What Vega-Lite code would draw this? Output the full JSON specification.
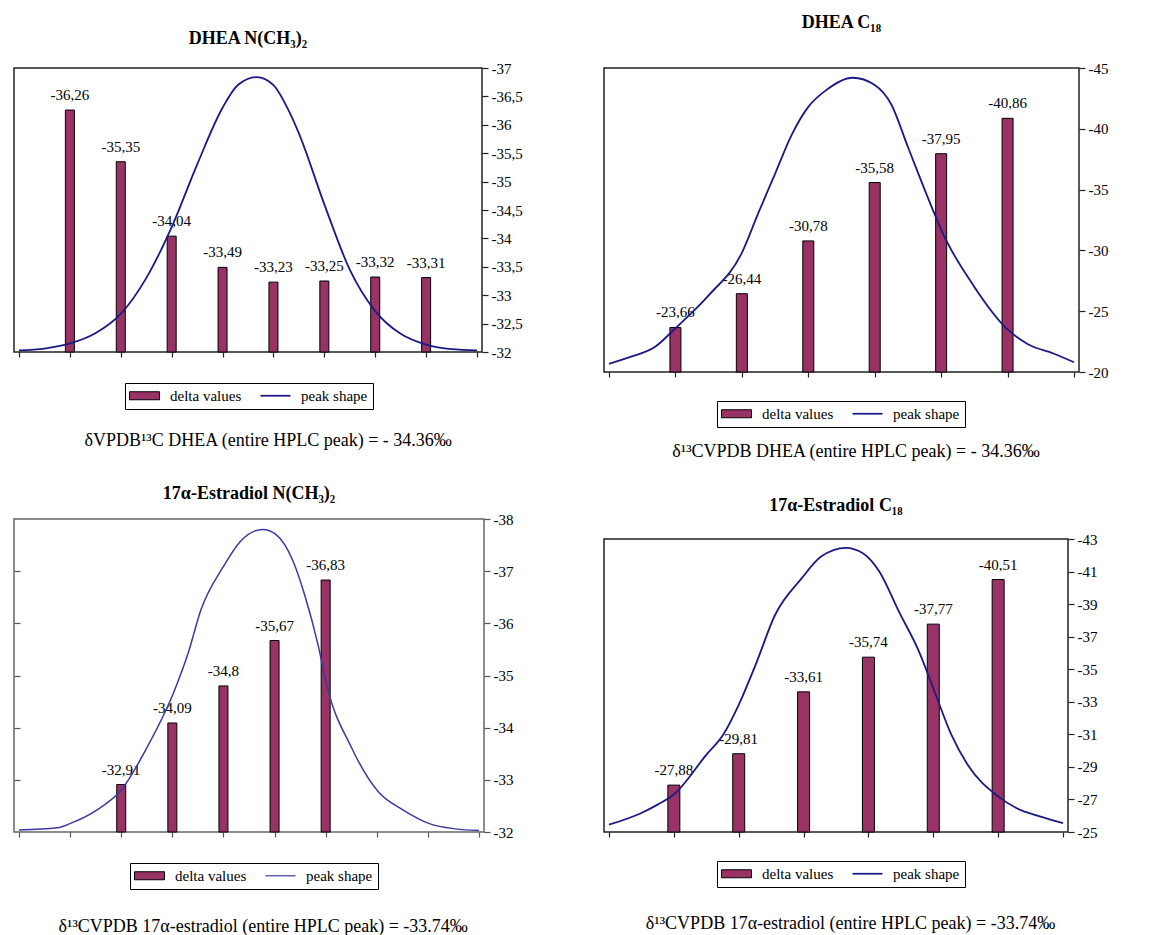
{
  "$schema": "https://vega.github.io/schema/vega-lite/v6.json",
  "background": "white",
  "padding": {"left": 12, "top": 13, "right": 0, "bottom": 0},
  "config": {
    "locale": {"number": {"decimal": ",", "thousands": ".", "grouping": [3], "currency": ["", ""], "minus": "-"}},
    "view": {"stroke": "#222222", "strokeWidth": 1.5},
    "axis": {"grid": false, "domain": false, "tickColor": "#222222", "tickWidth": 1.2, "labelFont": "Liberation Serif", "labelFontSize": 15, "labelColor": "black", "labelPadding": 3},
    "title": {"font": "Liberation Serif", "fontSize": 18, "fontWeight": "bold", "color": "black", "anchor": "middle"},
    "legend": {"direction": "horizontal", "padding": 5, "symbolSize": 256, "symbolOffset": 7, "labelOffset": 18, "columnPadding": 18, "labelLimit": 400, "labelFont": "Liberation Serif", "labelFontSize": 15, "labelColor": "black", "strokeColor": "black"}
  },
  "columns": 2,
  "align": "none",
  "resolve": {"scale": {"x": "independent", "y": "independent", "fill": "independent"}, "legend": {"fill": "independent"}},
  "spacing": 80,
  "concat": [
    {
      "title": {"text": " ", "fontSize": 8, "offset": 8},
      "spacing": 33,
      "resolve": {"scale": {"x": "independent", "y": "independent", "fill": "independent"}, "legend": {"fill": "independent"}},
      "vconcat": [
        {
          "title": {"text": "δVPDB¹³C DHEA (entire HPLC peak) = - 34.36‰", "orient": "bottom", "fontWeight": "normal", "fontSize": 18, "offset": 22},
          "resolve": {"scale": {"x": "independent", "y": "independent", "fill": "independent"}, "legend": {"fill": "independent"}},
          "vconcat": [
            {
              "title": {"text": "DHEA N(CH₃)₂", "offset": 13},
              "width": 468,
              "height": 284,
              "encoding": {
                "x": {"field": "x", "type": "quantitative", "scale": {"domain": [0, 9], "nice": false, "zero": false}, "axis": {"orient": "bottom", "values": [0,1,2,3,4,5,6,7,8,9], "labels": false, "tickSize": 5, "title": null}},
                "y": {"field": "value", "type": "quantitative", "scale": {"domain": [-32, -37], "nice": false, "zero": false}, "axis": {"orient": "right", "values": [-37,-36.5,-36,-35.5,-35,-34.5,-34,-33.5,-33,-32.5,-32], "format": ".1~f", "tickSize": 6, "title": null}}
              },
              "layer": [
                {
                  "data": {"values": [
                    {"x": 1, "value": -36.26, "series": "delta values"},
                    {"x": 2, "value": -35.35, "series": "delta values"},
                    {"x": 3, "value": -34.04, "series": "delta values"},
                    {"x": 4, "value": -33.49, "series": "delta values"},
                    {"x": 5, "value": -33.23, "series": "delta values"},
                    {"x": 6, "value": -33.25, "series": "delta values"},
                    {"x": 7, "value": -33.32, "series": "delta values"},
                    {"x": 8, "value": -33.31, "series": "delta values"}
                  ]},
                  "layer": [
                    {
                      "mark": {"type": "bar", "size": 9},
                      "encoding": {
                        "y2": {"datum": -32},
                        "fill": {"field": "series", "type": "nominal", "scale": {"domain": ["delta values", "peak shape"], "range": ["#993366", "#1a1a84"]},
                          "legend": {"orient": "none", "legendX": 111, "legendY": 315, "title": null,
                            "symbolType": {"expr": "datum.value === 'delta values' ? 'M-1.875,-0.5H1.875V0.5H-1.875Z' : 'M-1.875,-0.11H1.875V0.11H-1.875Z'"},
                            "symbolStrokeColor": "black",
                            "symbolStrokeWidth": {"expr": "datum.value === 'delta values' ? 1 : 0"}}}
                      }
                    },
                    {
                      "mark": {"type": "bar", "size": 9, "filled": false, "stroke": "black", "strokeWidth": 1},
                      "encoding": {"y2": {"datum": -32}}
                    },
                    {
                      "mark": {"type": "text", "font": "Liberation Serif", "fontSize": 15, "baseline": "alphabetic", "dy": -10, "color": "black"},
                      "encoding": {"text": {"field": "value", "type": "quantitative", "format": ".2~f"}}
                    }
                  ]
                },
                {
                  "data": {"values": [
                    {"x": 0, "value": -32.03},
                    {"x": 0.5, "value": -32.06},
                    {"x": 1, "value": -32.15},
                    {"x": 1.5, "value": -32.33},
                    {"x": 2, "value": -32.67},
                    {"x": 2.5, "value": -33.3},
                    {"x": 3, "value": -34.2},
                    {"x": 3.5, "value": -35.3},
                    {"x": 4, "value": -36.3},
                    {"x": 4.3, "value": -36.7},
                    {"x": 4.67, "value": -36.84},
                    {"x": 5, "value": -36.7},
                    {"x": 5.3, "value": -36.25},
                    {"x": 5.5, "value": -35.85},
                    {"x": 6, "value": -34.6},
                    {"x": 6.5, "value": -33.45},
                    {"x": 7, "value": -32.72},
                    {"x": 7.5, "value": -32.32},
                    {"x": 8, "value": -32.13},
                    {"x": 8.5, "value": -32.05},
                    {"x": 9, "value": -32.03}
                  ]},
                  "mark": {"type": "line", "interpolate": "monotone", "strokeWidth": 1.8, "color": "#1a1a84"},
                  "encoding": {}
                }
              ]
            }
          ]
        },
        {
          "title": {"text": "δ¹³CVPDB 17α-estradiol (entire HPLC peak) = -33.74‰", "orient": "bottom", "fontWeight": "normal", "fontSize": 18, "offset": 28},
          "resolve": {"scale": {"x": "independent", "y": "independent", "fill": "independent"}, "legend": {"fill": "independent"}},
          "vconcat": [
            {
              "title": {"text": "17α-Estradiol N(CH₃)₂", "offset": 9},
              "width": 470,
              "height": 313,
              "view": {"stroke": "#666666", "strokeWidth": 1.5},
              "resolve": {"axis": {"y": "independent"}},
              "encoding": {
                "x": {"field": "x", "type": "quantitative", "scale": {"domain": [0, 9], "nice": false, "zero": false}, "axis": {"orient": "bottom", "values": [0,1,2,3,4,5,6,7,8,9], "labels": false, "tickSize": 5, "title": null, "tickColor": "#555555"}},
                "y": {"field": "value", "type": "quantitative", "scale": {"domain": [-32, -38], "nice": false, "zero": false}, "axis": {"orient": "right", "values": [-38,-37,-36,-35,-34,-33,-32], "format": "d", "tickSize": 6, "title": null, "tickColor": "#555555"}}
              },
              "layer": [
                {
                  "data": {"values": [
                    {"x": 2, "value": -32.91, "series": "delta values"},
                    {"x": 3, "value": -34.09, "series": "delta values"},
                    {"x": 4, "value": -34.8, "series": "delta values"},
                    {"x": 5, "value": -35.67, "series": "delta values"},
                    {"x": 6, "value": -36.83, "series": "delta values"}
                  ]},
                  "layer": [
                    {
                      "mark": {"type": "bar", "size": 9},
                      "encoding": {
                        "y2": {"datum": -32},
                        "fill": {"field": "series", "type": "nominal", "scale": {"domain": ["delta values", "peak shape"], "range": ["#993366", "#5a5ab0"]},
                          "legend": {"orient": "none", "legendX": 116, "legendY": 344, "title": null,
                            "symbolType": {"expr": "datum.value === 'delta values' ? 'M-1.875,-0.5H1.875V0.5H-1.875Z' : 'M-1.875,-0.09H1.875V0.09H-1.875Z'"},
                            "symbolStrokeColor": "black",
                            "symbolStrokeWidth": {"expr": "datum.value === 'delta values' ? 1 : 0"}}}
                      }
                    },
                    {
                      "mark": {"type": "bar", "size": 9, "filled": false, "stroke": "black", "strokeWidth": 1},
                      "encoding": {"y2": {"datum": -32}}
                    },
                    {
                      "mark": {"type": "text", "font": "Liberation Serif", "fontSize": 15, "baseline": "alphabetic", "dy": -10, "color": "black"},
                      "encoding": {"text": {"field": "value", "type": "quantitative", "format": ".2~f"}}
                    }
                  ]
                },
                {
                  "data": {"values": [
                    {"x": 0, "value": -32.04},
                    {"x": 0.75, "value": -32.08},
                    {"x": 1.02, "value": -32.17},
                    {"x": 1.52, "value": -32.42},
                    {"x": 2.02, "value": -32.83},
                    {"x": 2.51, "value": -33.63},
                    {"x": 3.02, "value": -34.66},
                    {"x": 3.31, "value": -35.43},
                    {"x": 3.56, "value": -36.26},
                    {"x": 4.0, "value": -37.09},
                    {"x": 4.33, "value": -37.57},
                    {"x": 4.77, "value": -37.8},
                    {"x": 5.03, "value": -37.7},
                    {"x": 5.35, "value": -37.22},
                    {"x": 5.6, "value": -36.51},
                    {"x": 5.86, "value": -35.55},
                    {"x": 6.02, "value": -34.82},
                    {"x": 6.5, "value": -33.63},
                    {"x": 7.03, "value": -32.77},
                    {"x": 7.52, "value": -32.42},
                    {"x": 8.03, "value": -32.16},
                    {"x": 8.54, "value": -32.06},
                    {"x": 9, "value": -32.03}
                  ]},
                  "mark": {"type": "line", "interpolate": "monotone", "strokeWidth": 1.5, "color": "#3a3aa0"},
                  "encoding": {
                    "y": {"field": "value", "type": "quantitative", "scale": {"domain": [-32, -38], "nice": false, "zero": false}, "axis": {"orient": "left", "values": [-37,-36,-35,-34,-33], "labels": false, "tickSize": -6, "title": null, "tickColor": "#555555"}}
                  }
                }
              ]
            }
          ]
        }
      ]
    },
    {
      "spacing": 34,
      "resolve": {"scale": {"x": "independent", "y": "independent", "fill": "independent"}, "legend": {"fill": "independent"}},
      "vconcat": [
        {
          "title": {"text": "δ¹³CVPDB DHEA (entire HPLC peak) = - 34.36‰", "orient": "bottom", "fontWeight": "normal", "fontSize": 18, "offset": 15},
          "resolve": {"scale": {"x": "independent", "y": "independent", "fill": "independent"}, "legend": {"fill": "independent"}},
          "vconcat": [
            {
              "title": {"text": "DHEA C₁₈", "offset": 29},
              "width": 475,
              "height": 304,
              "encoding": {
                "x": {"field": "x", "type": "quantitative", "scale": {"domain": [0, 7], "nice": false, "zero": false}, "axis": {"orient": "bottom", "values": [0,1,2,3,4,5,6,7], "labels": false, "tickSize": 5, "title": null}},
                "y": {"field": "value", "type": "quantitative", "scale": {"domain": [-20, -45], "nice": false, "zero": false}, "axis": {"orient": "right", "values": [-45,-40,-35,-30,-25,-20], "format": "d", "tickSize": 6, "title": null}}
              },
              "layer": [
                {
                  "data": {"values": [
                    {"x": 1, "value": -23.66, "series": "delta values"},
                    {"x": 2, "value": -26.44, "series": "delta values"},
                    {"x": 3, "value": -30.78, "series": "delta values"},
                    {"x": 4, "value": -35.58, "series": "delta values"},
                    {"x": 5, "value": -37.95, "series": "delta values"},
                    {"x": 6, "value": -40.86, "series": "delta values"}
                  ]},
                  "layer": [
                    {
                      "mark": {"type": "bar", "size": 11},
                      "encoding": {
                        "y2": {"datum": -20},
                        "fill": {"field": "series", "type": "nominal", "scale": {"domain": ["delta values", "peak shape"], "range": ["#993366", "#1a1a84"]},
                          "legend": {"orient": "none", "legendX": 113, "legendY": 333, "title": null,
                            "symbolType": {"expr": "datum.value === 'delta values' ? 'M-1.875,-0.5H1.875V0.5H-1.875Z' : 'M-1.875,-0.11H1.875V0.11H-1.875Z'"},
                            "symbolStrokeColor": "black",
                            "symbolStrokeWidth": {"expr": "datum.value === 'delta values' ? 1 : 0"}}}
                      }
                    },
                    {
                      "mark": {"type": "bar", "size": 11, "filled": false, "stroke": "black", "strokeWidth": 1},
                      "encoding": {"y2": {"datum": -20}}
                    },
                    {
                      "mark": {"type": "text", "font": "Liberation Serif", "fontSize": 15, "baseline": "alphabetic", "dy": -10, "color": "black"},
                      "encoding": {"text": {"field": "value", "type": "quantitative", "format": ".2~f"}}
                    }
                  ]
                },
                {
                  "data": {"values": [
                    {"x": 0, "value": -20.66},
                    {"x": 0.3, "value": -21.2},
                    {"x": 0.7, "value": -22.1},
                    {"x": 1, "value": -23.6},
                    {"x": 1.5, "value": -26.3},
                    {"x": 2, "value": -29.8},
                    {"x": 2.25, "value": -33.1},
                    {"x": 2.5, "value": -36.3},
                    {"x": 2.75, "value": -39.5},
                    {"x": 3, "value": -41.8},
                    {"x": 3.25, "value": -43.1},
                    {"x": 3.67, "value": -44.2},
                    {"x": 4, "value": -43.6},
                    {"x": 4.25, "value": -42.0},
                    {"x": 4.5, "value": -38.5},
                    {"x": 4.9, "value": -33.0},
                    {"x": 5, "value": -31.7},
                    {"x": 5.5, "value": -27.0},
                    {"x": 6, "value": -23.5},
                    {"x": 6.3, "value": -22.3},
                    {"x": 6.7, "value": -21.5},
                    {"x": 7, "value": -20.8}
                  ]},
                  "mark": {"type": "line", "interpolate": "monotone", "strokeWidth": 1.8, "color": "#1a1a84"},
                  "encoding": {}
                }
              ]
            }
          ]
        },
        {
          "title": {"text": "δ¹³CVPDB 17α-estradiol (entire HPLC peak) = -33.74‰", "orient": "bottom", "fontWeight": "normal", "fontSize": 18, "offset": 27},
          "resolve": {"scale": {"x": "independent", "y": "independent", "fill": "independent"}, "legend": {"fill": "independent"}},
          "vconcat": [
            {
              "title": {"text": "17α-Estradiol C₁₈", "offset": 17},
              "width": 464,
              "height": 293,
              "encoding": {
                "x": {"field": "x", "type": "quantitative", "scale": {"domain": [0, 7], "nice": false, "zero": false}, "axis": {"orient": "bottom", "values": [0,1,2,3,4,5,6,7], "labels": false, "tickSize": 5, "title": null}},
                "y": {"field": "value", "type": "quantitative", "scale": {"domain": [-25, -43], "nice": false, "zero": false}, "axis": {"orient": "right", "values": [-43,-41,-39,-37,-35,-33,-31,-29,-27,-25], "format": "d", "tickSize": 6, "title": null}}
              },
              "layer": [
                {
                  "data": {"values": [
                    {"x": 1, "value": -27.88, "series": "delta values"},
                    {"x": 2, "value": -29.81, "series": "delta values"},
                    {"x": 3, "value": -33.61, "series": "delta values"},
                    {"x": 4, "value": -35.74, "series": "delta values"},
                    {"x": 5, "value": -37.77, "series": "delta values"},
                    {"x": 6, "value": -40.51, "series": "delta values"}
                  ]},
                  "layer": [
                    {
                      "mark": {"type": "bar", "size": 12},
                      "encoding": {
                        "y2": {"datum": -25},
                        "fill": {"field": "series", "type": "nominal", "scale": {"domain": ["delta values", "peak shape"], "range": ["#993366", "#1a1a84"]},
                          "legend": {"orient": "none", "legendX": 113, "legendY": 322, "title": null,
                            "symbolType": {"expr": "datum.value === 'delta values' ? 'M-1.875,-0.5H1.875V0.5H-1.875Z' : 'M-1.875,-0.11H1.875V0.11H-1.875Z'"},
                            "symbolStrokeColor": "black",
                            "symbolStrokeWidth": {"expr": "datum.value === 'delta values' ? 1 : 0"}}}
                      }
                    },
                    {
                      "mark": {"type": "bar", "size": 12, "filled": false, "stroke": "black", "strokeWidth": 1},
                      "encoding": {"y2": {"datum": -25}}
                    },
                    {
                      "mark": {"type": "text", "font": "Liberation Serif", "fontSize": 15, "baseline": "alphabetic", "dy": -10, "color": "black"},
                      "encoding": {"text": {"field": "value", "type": "quantitative", "format": ".2~f"}}
                    }
                  ]
                },
                {
                  "data": {"values": [
                    {"x": 0, "value": -25.45},
                    {"x": 0.5, "value": -26.17},
                    {"x": 0.75, "value": -26.68},
                    {"x": 1, "value": -27.3},
                    {"x": 1.5, "value": -29.74},
                    {"x": 1.76, "value": -30.97},
                    {"x": 2.0, "value": -32.81},
                    {"x": 2.26, "value": -35.27},
                    {"x": 2.56, "value": -38.33},
                    {"x": 2.97, "value": -40.58},
                    {"x": 3.27, "value": -41.92},
                    {"x": 3.65, "value": -42.46},
                    {"x": 3.92, "value": -42.11},
                    {"x": 4.17, "value": -40.99},
                    {"x": 4.47, "value": -38.54},
                    {"x": 4.78, "value": -36.08},
                    {"x": 5.0, "value": -33.83},
                    {"x": 5.28, "value": -30.97},
                    {"x": 5.53, "value": -29.13},
                    {"x": 6.0, "value": -27.19},
                    {"x": 6.28, "value": -26.47},
                    {"x": 6.64, "value": -25.96},
                    {"x": 7.0, "value": -25.55}
                  ]},
                  "mark": {"type": "line", "interpolate": "monotone", "strokeWidth": 1.8, "color": "#1a1a84"},
                  "encoding": {}
                }
              ]
            }
          ]
        }
      ]
    }
  ]
}
